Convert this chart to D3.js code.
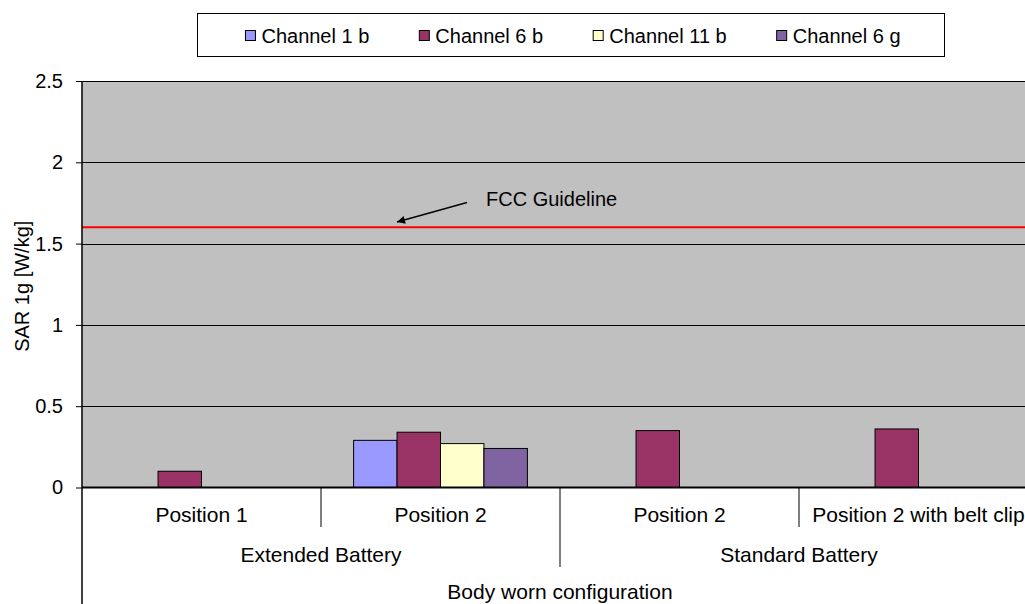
<!DOCTYPE html>
<html>
<head>
<meta charset="utf-8">
<script src="https://cdn.jsdelivr.net/npm/d3@7"></script>
<style>
  html, body { margin: 0; padding: 0; background: #fff; }
  svg { display: block; font-family: "Liberation Sans", Arial, sans-serif; }
</style>
</head>
<body>
<svg id="chart" width="1025" height="604"></svg>
<script>
// ---- data ----
const categories = ["Position 1", "Position 2", "Position 2", "Position 2 with belt clip"];
const groups = ["Extended Battery", "Standard Battery"];
const groupSpan = [2, 2];
const topLabel = "Body worn configuration";
const seriesNames = ["Channel 1 b", "Channel 6 b", "Channel 11 b", "Channel 6 g"];
const channel1b  = [null, 0.29, null, null];
const channel6b  = [0.10, 0.34, 0.35, 0.36];
const channel11b = [null, 0.27, null, null];
const channel6g  = [null, 0.24, null, null];
const yTicks = [0, 0.5, 1, 1.5, 2, 2.5];
const fccLimit = 1.6;
const fccLabel = "FCC Guideline";
const yLabel = "SAR 1g [W/kg]";

const seriesValues = [channel1b, channel6b, channel11b, channel6g];
const colors = ["#9999FF", "#993366", "#FFFFCC", "#8064A2"];

// ---- layout ----
const svg = d3.select("#chart");
const plot = { left: 82, right: 1038, top: 81, bottom: 487.5 };

const y = d3.scaleLinear().domain([0, 2.5]).range([plot.bottom, plot.top]);
const x0 = d3.scaleBand().domain(d3.range(categories.length)).range([plot.left, plot.right]).paddingInner(0).paddingOuter(0);
const bw = x0.bandwidth();
const barW = bw / 5.5;
const groupW = barW * seriesNames.length;
const x1 = d3.scaleBand().domain(d3.range(seriesNames.length))
  .range([(bw - groupW) / 2, (bw - groupW) / 2 + groupW]);

// plot background
svg.append("rect")
  .attr("x", plot.left).attr("y", plot.top)
  .attr("width", plot.right - plot.left).attr("height", plot.bottom - plot.top)
  .attr("fill", "#C0C0C0");

// gridlines
svg.append("g").selectAll("line").data(yTicks.filter(d => d > 0)).join("line")
  .attr("x1", plot.left).attr("x2", plot.right)
  .attr("y1", d => Math.round(y(d)) + 0.5).attr("y2", d => Math.round(y(d)) + 0.5)
  .attr("stroke", "#000").attr("stroke-width", 1);

// FCC line
svg.append("line")
  .attr("x1", plot.left).attr("x2", plot.right)
  .attr("y1", y(fccLimit)).attr("y2", y(fccLimit))
  .attr("stroke", "#FF0000").attr("stroke-width", 2);

// bars
const rows = [];
seriesValues.forEach((vals, si) => {
  vals.forEach((v, ci) => { if (v != null) rows.push({ si, ci, v }); });
});
svg.append("g").selectAll("rect").data(rows).join("rect")
  .attr("x", d => x0(d.ci) + x1(d.si))
  .attr("y", d => y(d.v))
  .attr("width", x1.bandwidth())
  .attr("height", d => y(0) - y(d.v))
  .attr("fill", d => colors[d.si])
  .attr("stroke", "#000").attr("stroke-width", 1);

// y axis
const yAxis = d3.axisLeft(y).tickValues(yTicks).tickSize(6).tickPadding(13)
  .tickFormat(d => String(d));
const gy = svg.append("g").attr("transform", `translate(${plot.left},0)`).call(yAxis);
gy.select(".domain").remove();
gy.selectAll(".tick line").attr("stroke", "#000");
gy.selectAll(".tick text").attr("font-size", 20).attr("fill", "#000")
  .attr("font-family", "Liberation Sans, Arial, sans-serif");

// y axis line (continues down through the category area)
svg.append("line")
  .attr("x1", plot.left).attr("x2", plot.left)
  .attr("y1", plot.top).attr("y2", 604)
  .attr("stroke", "#000").attr("stroke-width", 1.5);

// x axis line
svg.append("line")
  .attr("x1", plot.left).attr("x2", plot.right)
  .attr("y1", y(0)).attr("y2", y(0))
  .attr("stroke", "#000").attr("stroke-width", 2);

// y label
svg.append("text")
  .attr("transform", `translate(29,${(plot.top + plot.bottom) / 2 + 2}) rotate(-90)`)
  .attr("text-anchor", "middle").attr("font-size", 20).attr("fill", "#000")
  .text(yLabel);

// category level 1
const g1 = svg.append("g");
categories.forEach((c, i) => {
  g1.append("text")
    .attr("x", x0(i) + bw / 2).attr("y", 514.5).attr("dy", "0.35em")
    .attr("text-anchor", "middle").attr("font-size", 21).attr("fill", "#000")
    .text(c);
  if (i > 0 && i % 2 === 1) {
    // within-group dividers handled below
  }
});
// dividers between level-1 categories
let start = 0;
const groupBounds = [];
groupSpan.forEach(span => { groupBounds.push([start, start + span]); start += span; });
categories.forEach((c, i) => {
  if (i === 0) return;
  const isGroupEdge = groupBounds.some(b => b[0] === i);
  svg.append("line")
    .attr("x1", x0(i)).attr("x2", x0(i))
    .attr("y1", y(0)).attr("y2", isGroupEdge ? 567 : 527)
    .attr("stroke", "#000").attr("stroke-width", 1);
});

// category level 2
groups.forEach((gname, gi) => {
  const [a, b] = groupBounds[gi];
  const cx = (x0(a) + x0(b - 1) + bw) / 2;
  svg.append("text")
    .attr("x", cx).attr("y", 555).attr("dy", "0.35em")
    .attr("text-anchor", "middle").attr("font-size", 21).attr("fill", "#000")
    .text(gname);
});

// category level 3
svg.append("text")
  .attr("x", (plot.left + plot.right) / 2).attr("y", 592).attr("dy", "0.35em")
  .attr("text-anchor", "middle").attr("font-size", 21).attr("fill", "#000")
  .text(topLabel);

// FCC annotation
svg.append("defs").append("marker")
  .attr("id", "arrow").attr("viewBox", "0 0 10 10")
  .attr("refX", 10).attr("refY", 5)
  .attr("markerWidth", 12).attr("markerHeight", 8)
  .attr("markerUnits", "userSpaceOnUse")
  .attr("orient", "auto")
  .append("path").attr("d", "M0,0 L10,5 L0,10 Z").attr("fill", "#000");
svg.append("line")
  .attr("x1", 467).attr("y1", 202.5)
  .attr("x2", 397).attr("y2", 222)
  .attr("stroke", "#000").attr("stroke-width", 1.3)
  .attr("marker-end", "url(#arrow)");
svg.append("text")
  .attr("x", 486).attr("y", 198.5).attr("dy", "0.35em")
  .attr("font-size", 20).attr("fill", "#000")
  .text(fccLabel);

// legend
const legend = svg.append("g");
legend.append("rect")
  .attr("x", 197.5).attr("y", 13.5).attr("width", 747).attr("height", 43)
  .attr("fill", "#fff").attr("stroke", "#000").attr("stroke-width", 1);
const items = legend.selectAll("g.item").data(seriesNames).join("g").attr("class", "item");
items.append("rect")
  .attr("y", 30.5).attr("width", 10).attr("height", 10)
  .attr("fill", (d, i) => colors[i]).attr("stroke", "#000").attr("stroke-width", 1);
items.append("text")
  .attr("x", 16).attr("y", 35.5).attr("dy", "0.35em")
  .attr("font-size", 20).attr("fill", "#000")
  .text(d => d);
// measure and place
const widths = [];
items.each(function() { widths.push(16 + this.querySelector("text").getComputedTextLength()); });
const gap = 50;
const total = d3.sum(widths) + gap * (widths.length - 1);
let lx = 197.5 + 747 / 2 - total / 2 + 2;
items.each(function(d, i) {
  d3.select(this).attr("transform", `translate(${lx},0)`);
  lx += widths[i] + gap;
});
</script>
</body>
</html>
